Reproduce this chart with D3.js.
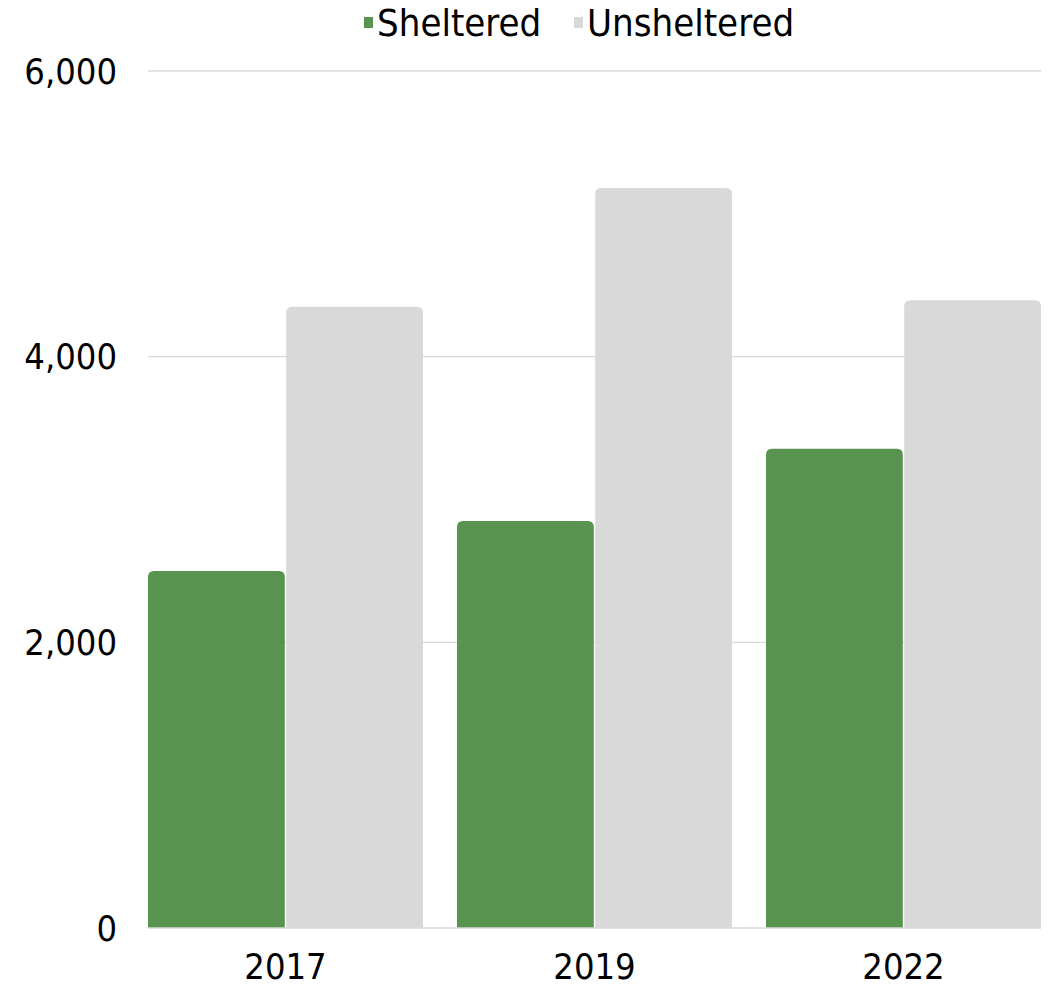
<!DOCTYPE html>
<html>
<head>
<meta charset="utf-8">
<script src="https://cdn.jsdelivr.net/npm/d3@7"></script>
<style>
  body { margin: 0; background: #fff; }
  text { font-family: "Liberation Sans Narrow", "DejaVu Sans Condensed", sans-serif; fill: #000; }
</style>
</head>
<body>
<div id="chart"></div>
<script>
// data
const years = ["2017", "2019", "2022"];
const seriesNames = ["Sheltered", "Unsheltered"];
const sheltered = [2500, 2850, 3355];
const unsheltered = [4350, 5180, 4395];
const yTicks = [0, 2000, 4000, 6000];
const colors = ["#58944f", "#d9d9d9"];

const width = 1056, height = 990;
const plotLeft = 148, plotRight = 1041, plotTop = 71, plotBottom = 928;

const svg = d3.select("#chart").append("svg")
  .attr("width", width).attr("height", height);

const x = d3.scaleBand().domain(years).range([plotLeft, plotRight]).paddingInner(0.11).paddingOuter(0);
const xs = d3.scaleBand().domain(seriesNames).range([0, x.bandwidth()]).paddingInner(0.01);
const y = d3.scaleLinear().domain([0, 6000]).range([plotBottom, plotTop]);

// gridlines
svg.append("g").selectAll("line")
  .data(yTicks.filter(d => d > 0))
  .enter().append("line")
  .attr("x1", plotLeft).attr("x2", plotRight)
  .attr("y1", d => y(d)).attr("y2", d => y(d))
  .attr("stroke", "#d9d9d9").attr("stroke-width", 1.3);

// y labels
svg.append("g").selectAll("text")
  .data(yTicks)
  .enter().append("text")
  .attr("x", 117).attr("y", d => y(d))
  .attr("dy", "0.35em")
  .attr("text-anchor", "end")
  .style("font-size", "36px")
  .text(d => d3.format(",")(d));

// bar with rounded top corners
function barPath(x0, w, y0, y1, r) {
  return "M" + x0 + "," + y1 +
    "V" + (y0 + r) +
    "Q" + x0 + "," + y0 + " " + (x0 + r) + "," + y0 +
    "H" + (x0 + w - r) +
    "Q" + (x0 + w) + "," + y0 + " " + (x0 + w) + "," + (y0 + r) +
    "V" + y1 + "Z";
}

const rows = years.map((yr, i) => ({ year: yr, values: [sheltered[i], unsheltered[i]] }));

const groups = svg.append("g").selectAll("g")
  .data(rows)
  .enter().append("g")
  .attr("transform", d => "translate(" + x(d.year) + ",0)");

groups.selectAll("path")
  .data(d => d.values.map((v, j) => ({ name: seriesNames[j], value: v, j: j })))
  .enter().append("path")
  .attr("d", d => barPath(xs(d.name), xs.bandwidth(), y(d.value), y(0), 6))
  .attr("fill", d => colors[d.j]);

// baseline
svg.append("line")
  .attr("x1", plotLeft).attr("x2", plotRight)
  .attr("y1", plotBottom).attr("y2", plotBottom)
  .attr("stroke", "#d9d9d9").attr("stroke-width", 1.3);

// x labels
svg.append("g").selectAll("text")
  .data(years)
  .enter().append("text")
  .attr("x", d => x(d) + x.bandwidth() / 2)
  .attr("y", 979)
  .attr("text-anchor", "middle")
  .style("font-size", "36px")
  .text(d => d);

// legend
const legendX = [364, 574];
const legend = svg.append("g").selectAll("g")
  .data(seriesNames)
  .enter().append("g")
  .attr("transform", (d, i) => "translate(" + legendX[i] + ",0)");
legend.append("rect")
  .attr("x", 0).attr("y", 17).attr("width", 9).attr("height", 11)
  .attr("fill", (d, i) => colors[i]);
legend.append("text")
  .attr("x", 13).attr("y", 23)
  .attr("dy", "0.35em")
  .style("font-size", "38px")
  .text(d => d);
</script>
</body>
</html>
